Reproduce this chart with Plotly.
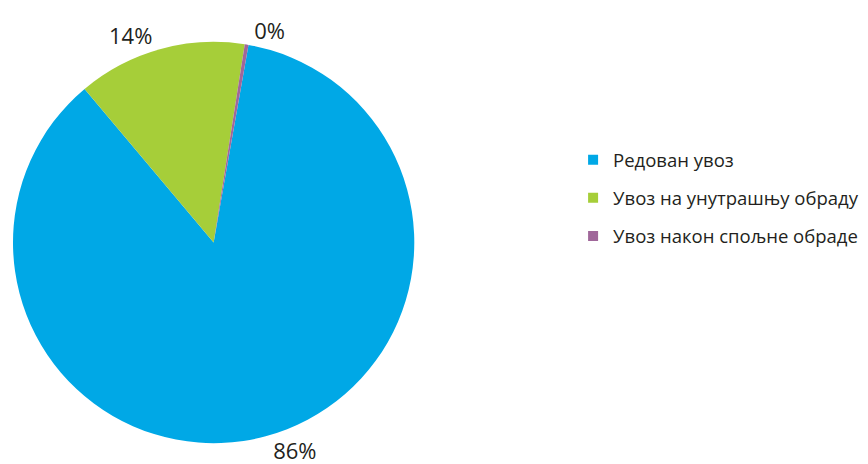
import plotly.graph_objects as go

labels = ['Редован увоз', 'Увоз на унутрашњу обраду', 'Увоз након спољне обраде']
values = [86.1, 13.6, 0.3]
colors = ['#00a8e6', '#a6ce39', '#a0679a']

fig = go.Figure()

# сама пита, без легенды
fig.add_trace(go.Pie(
    labels=labels, values=values, sort=False, direction='clockwise',
    rotation=10, textinfo='percent', textposition='outside',
    texttemplate='%{percent:.0%}',
    marker=dict(colors=colors, line=dict(width=0)),
    textfont=dict(size=22, color='#231f20'),
    domain=dict(x=[0, 0.465], y=[0, 1]),
    showlegend=False, hoverinfo='label+percent',
))

# легенда отдельными маркерами, чтобы задать расстояние между строками
for name, c in zip(labels, colors):
    fig.add_trace(go.Scatter(
        x=[None], y=[None], mode='markers', name=name, legendgroup=name,
        marker=dict(symbol='square', size=10, color=c),
    ))

fig.update_layout(
    width=868, height=464, margin=dict(l=0, r=0, t=0, b=0),
    paper_bgcolor='white', plot_bgcolor='white',
    font=dict(family='Open Sans', color='#231f20'),
    xaxis=dict(visible=False), yaxis=dict(visible=False),
    legend=dict(x=0.649, y=0.75, xanchor='left', yanchor='top',
                font=dict(size=18.5), tracegroupgap=11, itemclick=False),
)

fig.write_html('out.html')
